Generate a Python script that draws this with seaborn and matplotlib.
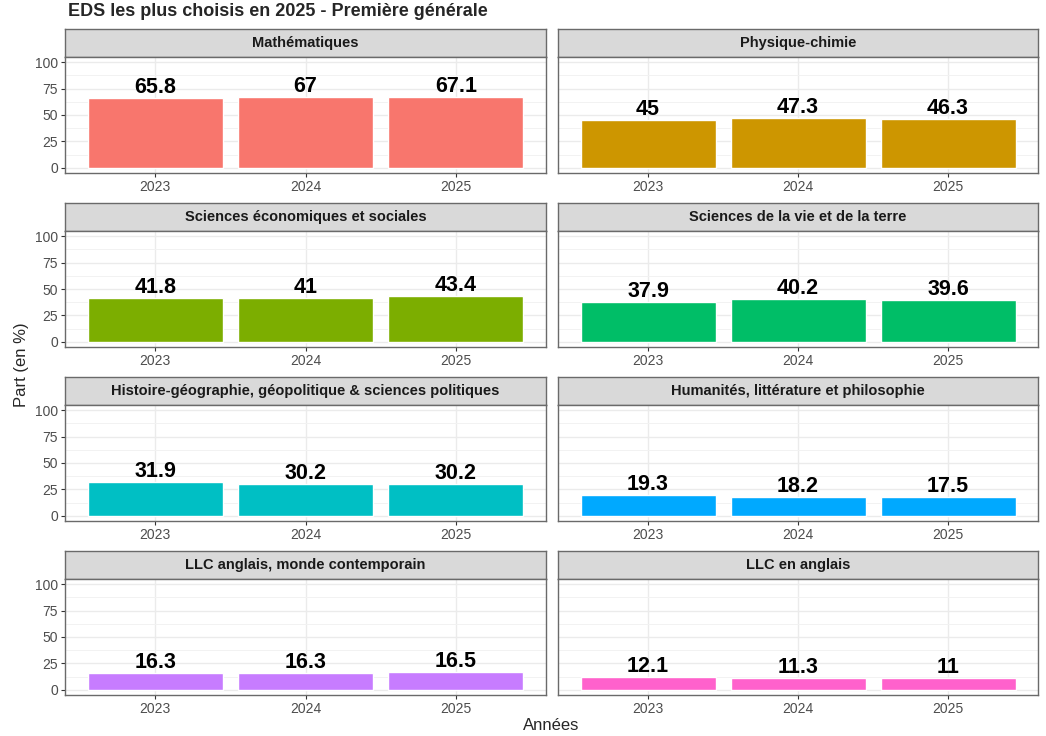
import numpy as np
import pandas as pd
import matplotlib.pyplot as plt
import seaborn as sns

sns.set_theme(style="white")
plt.rcParams['font.family'] = ['Liberation Sans', 'DejaVu Sans']

# Donnees
matieres = [
    "Mathématiques",
    "Physique-chimie",
    "Sciences économiques et sociales",
    "Sciences de la vie et de la terre",
    "Histoire-géographie, géopolitique & sciences politiques",
    "Humanités, littérature et philosophie",
    "LLC anglais, monde contemporain",
    "LLC en anglais",
]
annees = ["2023", "2024", "2025"]
part_2023 = [65.8, 45, 41.8, 37.9, 31.9, 19.3, 16.3, 12.1]
part_2024 = [67, 47.3, 41, 40.2, 30.2, 18.2, 16.3, 11.3]
part_2025 = [67.1, 46.3, 43.4, 39.6, 30.2, 17.5, 16.5, 11]
couleurs = ["#F8766D", "#CD9600", "#7CAE00", "#00BE67",
            "#00BFC4", "#00A9FF", "#C77CFF", "#FF61CC"]

df = pd.DataFrame({
    "matiere": np.repeat(matieres, len(annees)),
    "annee": annees * len(matieres),
    "part": [v for trio in zip(part_2023, part_2024, part_2025) for v in trio],
})

W, H = 1046, 736
fig = plt.figure(figsize=(W / 100, H / 100), dpi=100)

col_x = [(65, 546), (558, 1038)]
row_top = [29, 203, 377, 551]
strip_h = 28
panel_h = 116
bord = "#6a6a6a"


def ajout_axe(x0, x1, top, bottom):
    return fig.add_axes([x0 / W, 1 - bottom / H, (x1 - x0) / W, (bottom - top) / H])


for k, matiere in enumerate(matieres):
    ligne, col = divmod(k, 2)
    x0, x1 = col_x[col]
    top = row_top[ligne]

    # bandeau du facet
    strip = ajout_axe(x0, x1, top, top + strip_h)
    strip.set_facecolor("#D9D9D9")
    strip.set_xticks([])
    strip.set_yticks([])
    for s in strip.spines.values():
        s.set_color(bord)
        s.set_linewidth(1.0)
    strip.text(0.5, 0.5, matiere, ha="center", va="center", fontsize=10.5,
               fontweight="bold", color="#1A1A1A", transform=strip.transAxes)

    # panneau
    ax = ajout_axe(x0, x1, top + strip_h, top + strip_h + panel_h)
    sub = df[df["matiere"] == matiere]
    sns.barplot(data=sub, x="annee", y="part", color=couleurs[k], width=0.9,
                saturation=1, ax=ax, zorder=2)
    ax.bar_label(ax.containers[0], labels=[f"{v:g}" for v in sub["part"]],
                 padding=0, fontsize=15.5, fontweight="bold", color="black")

    ax.set_xlim(-0.6, 2.6)
    ax.set_ylim(-5, 105)
    ax.set_yticks([0, 25, 50, 75, 100])
    ax.set_yticks([12.5, 37.5, 62.5, 87.5], minor=True)
    ax.grid(True, which="major", color="#EBEBEB", linewidth=1.0, zorder=0)
    ax.grid(True, which="minor", axis="y", color="#F2F2F2", linewidth=0.7, zorder=0)
    ax.set_axisbelow(True)
    ax.set_xlabel("")
    ax.set_ylabel("")
    ax.tick_params(axis="both", which="major", length=3, width=0.8, color="#333333",
                   labelsize=10, labelcolor="#4D4D4D", pad=2, bottom=True, left=True)
    ax.tick_params(axis="y", which="minor", length=0)
    if col == 1:
        ax.tick_params(axis="y", left=False, labelleft=False)
    for s in ax.spines.values():
        s.set_color(bord)
        s.set_linewidth(1.0)
    ax.set_facecolor("white")

fig.text(68 / W, 1 - 12 / H, "EDS les plus choisis en 2025 - Première générale",
         fontsize=13, fontweight="bold", ha="left", va="center")
fig.text(22 / W, 1 - 365 / H, "Part (en %)", rotation=90, fontsize=12,
         ha="center", va="center")
fig.text(551 / W, 1 - 725 / H, "Années", fontsize=12, ha="center", va="center")

plt.savefig("out.png", dpi=100)
